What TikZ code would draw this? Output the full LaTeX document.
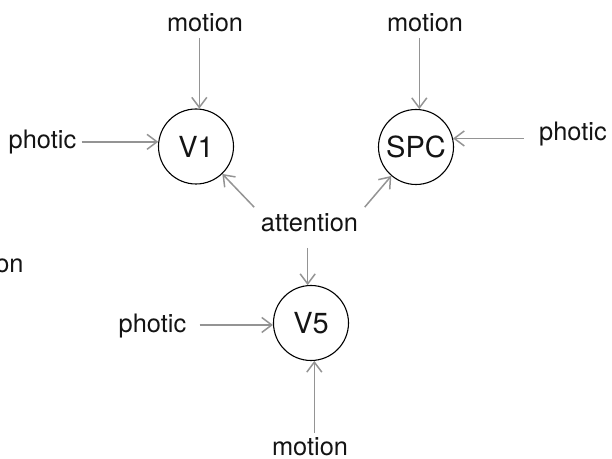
\documentclass[tikz,border=0pt]{standalone}
\usepackage{fontspec}
\setmainfont{TeX Gyre Heros}
\usetikzlibrary{arrows.meta}
\begin{document}
\begin{tikzpicture}[x=0.5pt,y=-0.5pt,
  lbl/.style={inner sep=2.5pt, font=\fontsize{12.7}{15}\selectfont, text=black!92},
  area/.style={circle, draw=black, line width=0.55pt, minimum size=37.5pt, inner sep=0pt,
    font=\fontsize{14.5}{17}\selectfont, text=black!92},
  arr/.style={draw=black!42, line width=0.75pt, -{Straight Barb[length=5pt,width=7.5pt]}}]
\path[use as bounding box] (0,0) rectangle (612,459);
% areas
\node[area] (V1) at (196,146.5) {V1};
\node[area] (SPC) at (416,147) {SPC};
\node[area] (V5) at (311,323) {V5};
% labels
\node[lbl, anchor=base] (m1) at (205,32) {motion};
\node[lbl, anchor=base] (m2) at (425,32) {motion};
\node[lbl, anchor=base] (m3) at (310,456) {motion};
\node[lbl, anchor=base] (p1) at (42.5,149) {photic};
\node[lbl, anchor=base] (p2) at (573,141) {photic};
\node[lbl, anchor=base] (p3) at (152.5,333) {photic};
\node[lbl, anchor=base] (att) at (309.5,232) {attention};
\node[lbl, anchor=base east, inner sep=0pt] (on) at (24,273) {on};
% connectors
\draw[arr] (m1.south -| V1.85) -- (V1.85);
\draw[arr] (m2.south -| SPC.85) -- (SPC.85);
\draw[arr] (p1.east |- V1.173) -- (V1.173);
\draw[arr, shorten <=5pt] (p2.west |- SPC.13) -- (SPC.13);
\draw[arr, shorten <=4pt] (p3.east |- V5.183) -- (V5.183);
\draw[arr] (m3.north -| V5.275) -- (V5.275);
\draw[arr, shorten <=1pt] (att.north west) -- (V1);
\draw[arr, shorten <=1pt] (att.north east) -- (SPC);
\draw[arr, shorten <=5pt] (att.south -| V5.95) -- (V5.95);
\end{tikzpicture}
\end{document}
